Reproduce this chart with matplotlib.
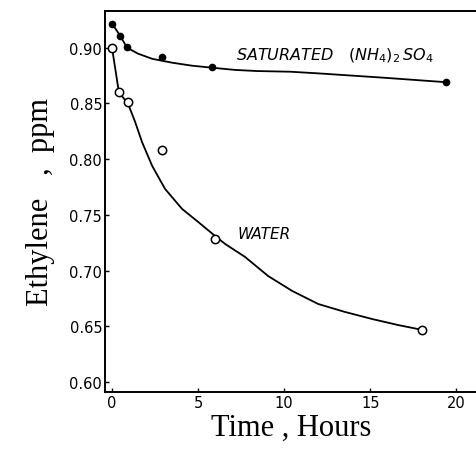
import numpy as np
import matplotlib.pyplot as plt

# -------------------------------------------------
# Data
# -------------------------------------------------
# saturated (NH4)2SO4 - measured points (filled)
sat_t = [0.0, 0.47, 0.87, 2.9, 5.8, 19.4]
sat_c = [0.9216, 0.9108, 0.901, 0.892, 0.883, 0.869]
# hand-drawn curve through them
sat_curve_t = [0.0, 0.47, 0.87, 1.51, 2.33, 3.49, 4.65, 5.81, 7.15, 8.43,
               10.35, 11.9, 15.8, 19.4]
sat_curve_c = [0.9216, 0.9108, 0.900, 0.8946, 0.890, 0.8865, 0.8838, 0.882,
               0.880, 0.879, 0.8784, 0.877, 0.873, 0.869]

# water - measured points (open)
wat_t = [0.0, 0.4, 0.93, 2.9, 6.0, 18.0]
wat_c = [0.900, 0.860, 0.851, 0.808, 0.728, 0.647]
wat_curve_t = [0.0, 0.4, 0.93, 1.34, 1.74, 2.33, 3.08, 4.07, 5.0, 5.99,
               6.57, 7.73, 9.07, 10.47, 11.98, 13.55, 15.12, 16.63, 17.79]
wat_curve_c = [0.900, 0.860, 0.8497, 0.8335, 0.8155, 0.794, 0.7733, 0.7553,
               0.7437, 0.731, 0.7239, 0.7122, 0.6951, 0.6817, 0.670, 0.6628,
               0.6565, 0.6511, 0.6475]

x_ticks = [0, 5, 10, 15, 20]
y_ticks = [0.60, 0.65, 0.70, 0.75, 0.80, 0.85, 0.90]

# -------------------------------------------------
# Plot
# -------------------------------------------------
fig = plt.figure(figsize=(4.77, 4.56), dpi=100)
ax = fig.add_axes([0.220, 0.138, 0.780, 0.836])

ax.plot(sat_curve_t, sat_curve_c, color='black', lw=1.3, solid_joinstyle='round')
ax.plot(wat_curve_t, wat_curve_c, color='black', lw=1.3, solid_joinstyle='round')
ax.plot(sat_t, sat_c, 'o', color='black', ms=4.5)
ax.plot(wat_t, wat_c, 'o', mfc='white', mec='black', mew=1.1, ms=6)

ax.text(7.2, 0.8935, r'SATURATED   $(NH_4)_2\,SO_4$', fontsize=11.5, style='italic',
        va='center', ha='left')
ax.text(7.3, 0.7335, 'WATER', fontsize=11, style='italic', va='center', ha='left')

ax.set_xlim(-0.41, 21.2)
ax.set_ylim(0.591, 0.933)
ax.set_xticks(x_ticks)
ax.set_yticks(y_ticks)
ax.set_yticklabels(['%.2f' % v for v in y_ticks])
ax.tick_params(direction='in', length=3, width=1, labelsize=10.5, pad=2)

ax.spines['right'].set_visible(False)
for s in ['left', 'bottom', 'top']:
    ax.spines[s].set_linewidth(1.4)

ax.set_xlabel('Time , Hours', family='Liberation Serif', fontsize=22, labelpad=2)
ax.set_ylabel('Ethylene   ,  ppm', family='Liberation Serif', fontsize=22, labelpad=10)

fig.savefig('out.png', dpi=100)
